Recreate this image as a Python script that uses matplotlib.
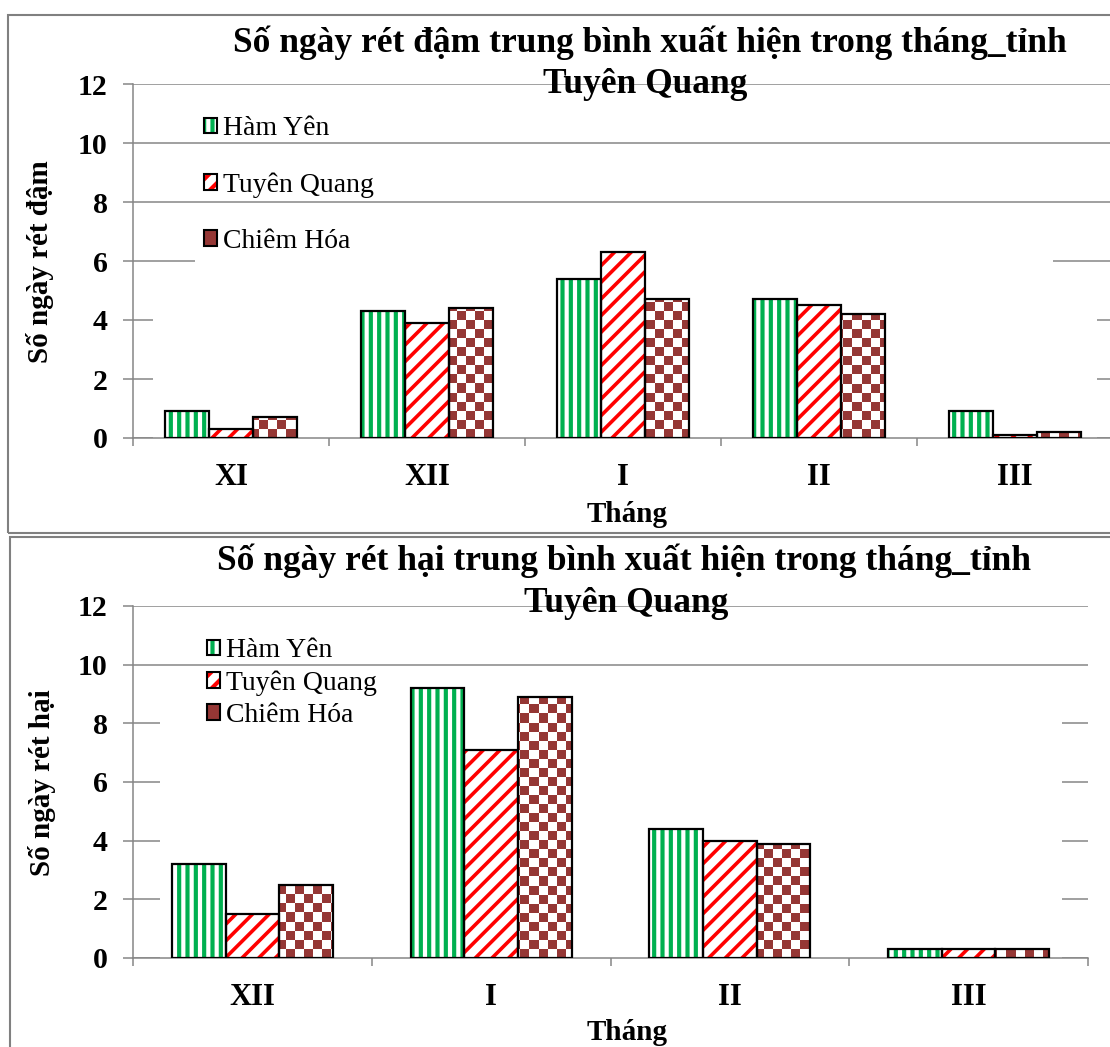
import numpy as np
import matplotlib
matplotlib.use("Agg")
import matplotlib.pyplot as plt
from matplotlib.patches import Rectangle
from matplotlib.colors import ListedColormap
from matplotlib.legend_handler import HandlerTuple

# --- data ---
stations = ["Hàm Yên", "Tuyên Quang", "Chiêm Hóa"]

months_dam = ["XI", "XII", "I", "II", "III"]
ham_yen_dam = [0.9, 4.3, 5.4, 4.7, 0.9]
tuyen_quang_dam = [0.3, 3.9, 6.3, 4.5, 0.1]
chiem_hoa_dam = [0.7, 4.4, 4.7, 4.2, 0.2]

months_hai = ["XII", "I", "II", "III"]
ham_yen_hai = [3.2, 9.2, 4.4, 0.3]
tuyen_quang_hai = [1.5, 7.1, 4.0, 0.3]
chiem_hoa_hai = [2.5, 8.9, 3.9, 0.3]

yticks = [0, 2, 4, 6, 8, 10, 12]

GREEN = "#00B050"
RED = "#FF0000"
BROWN = "#953735"
GRAY = "#868686"

plt.rcParams['font.family'] = ['Liberation Serif', 'DejaVu Serif']
plt.rcParams['hatch.linewidth'] = 3.0

W, H = 1110, 1047
fig = plt.figure(figsize=(W / 100, H / 100), dpi=100)

HY_LW = 3.0   # hatch line widths (pt)
TQ_LW = 2.6


def fx(x):
    return x / W


def fy(y):
    return 1 - y / H


def set_hatch_lw(patches, lw):
    for p in patches:
        if hasattr(p, "set_hatch_linewidth"):
            p.set_hatch_linewidth(lw)


def panel(box, months, series, ylabel, xlabel_xy, ylabel_xy, covers, leg_xy, leg_spacing):
    x0, y0, x1, y1 = box
    ax = fig.add_axes([fx(x0), fy(y1), fx(x1) - fx(x0), fy(y0) - fy(y1)])
    n = len(months)
    x = np.arange(n)
    w = 0.225

    ax.set_xlim(-0.5, n - 0.5)
    ax.set_ylim(0, 12)
    ax.set_axisbelow(True)
    ax.yaxis.grid(True, color=GRAY, linewidth=1.1)

    # white boxes hiding the middle of the lower gridlines (as in the source)
    for cx0, cx1, ctop in covers:
        ax.add_patch(Rectangle((cx0, 0), cx1 - cx0, ctop, facecolor="white",
                               edgecolor="none", zorder=1))

    hy = ax.bar(x - w, series[0], w, facecolor="white", edgecolor=GREEN,
                hatch="||", linewidth=0, zorder=2)
    set_hatch_lw(hy, HY_LW)
    tq = ax.bar(x, series[1], w, facecolor="white", edgecolor=RED,
                hatch="//", linewidth=0, zorder=2)
    set_hatch_lw(tq, TQ_LW)
    ch = ax.bar(x + w, series[2], w, facecolor="white", linewidth=0, zorder=2)

    # checkerboard fill for Chiêm Hóa, clipped to each bar
    bb = ax.get_position()
    ncol = int(round(bb.width * W / 9))
    nrow = int(round(bb.height * H / 9))
    checker = np.indices((nrow, ncol)).sum(axis=0) % 2
    cmap = ListedColormap(["white", BROWN])
    for bar in ch:
        im = ax.imshow(checker, extent=(-0.5, n - 0.5, 0, 12), origin="lower",
                       cmap=cmap, interpolation="nearest", aspect="auto", zorder=2.5)
        im.set_clip_path(bar)

    for off, vals in zip((-w, 0, w), series):
        ax.bar(x + off, vals, w, fill=False, edgecolor="black", linewidth=1.6, zorder=4)

    ax.set_xlim(-0.5, n - 0.5)
    ax.set_ylim(0, 12)

    for s in ("top", "right"):
        ax.spines[s].set_visible(False)
    for s in ("left", "bottom"):
        ax.spines[s].set_color(GRAY)
        ax.spines[s].set_linewidth(1.1)

    ax.set_yticks(yticks)
    ax.set_yticklabels([str(v) for v in yticks], fontsize=21.5, fontweight="bold")
    ax.tick_params(axis="y", length=7.2, width=1.1, color=GRAY, pad=11)

    ax.set_xticks(np.arange(n + 1) - 0.5)
    ax.set_xticklabels([])
    ax.set_xticks(x, minor=True)
    ax.set_xticklabels(months, minor=True, fontsize=22, fontweight="bold")
    ax.tick_params(axis="x", which="major", length=6, width=1.1, color=GRAY)
    ax.tick_params(axis="x", which="minor", length=0, pad=18)

    ax.set_xlabel("Tháng", fontsize=21, fontweight="bold")
    ax.xaxis.label.set_va("center")
    ax.xaxis.set_label_coords((xlabel_xy[0] - x0) / (x1 - x0),
                              (y1 - xlabel_xy[1]) / (y1 - y0))
    ax.set_ylabel(ylabel, fontsize=21, fontweight="bold")
    ax.yaxis.label.set_va("center")
    ax.yaxis.set_label_coords((ylabel_xy[0] - x0) / (x1 - x0),
                              (y1 - ylabel_xy[1]) / (y1 - y0))

    edge = dict(fill=False, edgecolor="black", linewidth=1.5)
    h_hy = (Rectangle((0, 0), 1, 1, facecolor="white", edgecolor=GREEN, hatch="||", linewidth=0),
            Rectangle((0, 0), 1, 1, **edge))
    h_tq = (Rectangle((0, 0), 1, 1, facecolor="white", edgecolor=RED, hatch="//", linewidth=0),
            Rectangle((0, 0), 1, 1, **edge))
    h_ch = (Rectangle((0, 0), 1, 1, facecolor=BROWN, linewidth=0),
            Rectangle((0, 0), 1, 1, **edge))
    set_hatch_lw([h_hy[0]], HY_LW)
    set_hatch_lw([h_tq[0]], TQ_LW)
    ax.legend([h_hy, h_tq, h_ch], stations, loc="center left",
              bbox_to_anchor=(fx(leg_xy[0]), fy(leg_xy[1])), bbox_transform=fig.transFigure,
              handler_map={tuple: HandlerTuple(ndivide=1, pad=0)},
              frameon=False, fontsize=20, handlelength=0.47, handleheight=0.47,
              handletextpad=0.2, labelspacing=leg_spacing, borderpad=0, borderaxespad=0)
    return ax


# top chart: number of severe-cold days
panel((133, 84, 1113, 438), months_dam,
      [ham_yen_dam, tuyen_quang_dam, chiem_hoa_dam],
      "Số ngày rét đậm", (627, 514), (40, 262),
      covers=[(-0.184, 4.194, 6.6), (-0.398, 4.42, 5.0)],
      leg_xy=(204, 185), leg_spacing=1.12)

# bottom chart: number of damaging-cold days
panel((133, 606, 1088, 958), months_hai,
      [ham_yen_hai, tuyen_quang_hai, chiem_hoa_hai],
      "Số ngày rét hại", (627, 1033), (42, 783),
      covers=[(-0.387, 3.391, 9.0)],
      leg_xy=(207, 683), leg_spacing=0.26)

title_kw = dict(fontsize=25.5, fontweight="bold", ha="center", va="center")
fig.text(fx(650), fy(43), "Số ngày rét đậm trung bình xuất hiện trong tháng_tỉnh", **title_kw)
fig.text(fx(645), fy(84), "Tuyên Quang", **title_kw)
fig.text(fx(624), fy(561), "Số ngày rét hại trung bình xuất hiện trong tháng_tỉnh", **title_kw)
fig.text(fx(626), fy(603), "Tuyên Quang", **title_kw)

# outer frames of the two charts
for (a, b, c, d) in [(8, 15, 1120, 533), (10, 537, 1120, 1055)]:
    fig.add_artist(Rectangle((fx(a), fy(d)), fx(c) - fx(a), fy(b) - fy(d),
                             transform=fig.transFigure, fill=False,
                             edgecolor="#808080", linewidth=1.5))

fig.savefig("out.png", dpi=100)
